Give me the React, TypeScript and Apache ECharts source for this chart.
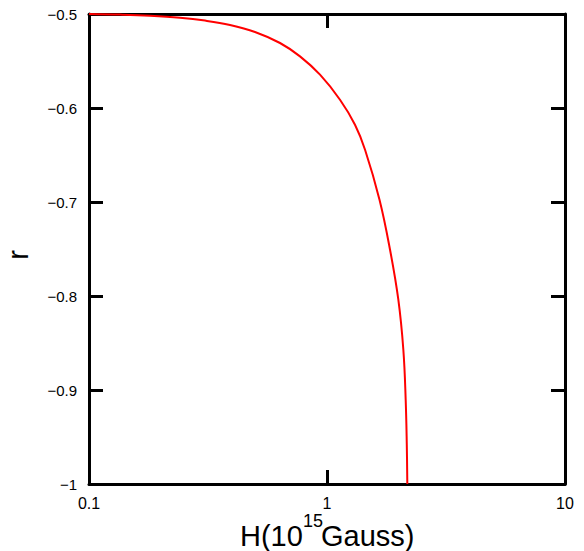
import React, { useEffect, useRef } from "react";
import * as echarts from "echarts";

const fieldH = [0.1, 0.135, 0.1804, 0.2412, 0.3072, 0.3913, 0.4983, 0.6347, 0.7701, 0.9346, 1.134, 1.311, 1.445, 1.662, 1.84, 1.994, 2.093, 2.141, 2.164, 2.175];
const ratioR = [-0.5, -0.50064, -0.50181, -0.50394, -0.50702, -0.5117, -0.51915, -0.53085, -0.5451, -0.56457, -0.59117, -0.61777, -0.64436, -0.69755, -0.75074, -0.80394, -0.85713, -0.91032, -0.95819, -1.0];
const xTicks = [0.1, 1, 10];
const yTicks = [-1, -0.9, -0.8, -0.7, -0.6, -0.5];

export default function App() {
  const ref = useRef<HTMLDivElement>(null);
  useEffect(() => {
    document.body.style.margin = "0";
    if (!ref.current) return;
    const chart = echarts.init(ref.current, null, { renderer: "svg" });
    const font = "'Liberation Sans', Arial, sans-serif";
    const fmtY = (v: number) => {
      const r = Math.round(v * 10) / 10;
      const m = yTicks.find((t) => Math.abs(t - r) < 1e-9);
      return m !== undefined ? String(m).replace("-", "\u2212") : "";
    };
    const fmtX = (v: number) => {
      const m = xTicks.find((t) => Math.abs(t - v) / t < 1e-6);
      return m !== undefined ? String(m) : "";
    };
    const axisLine = { show: true, lineStyle: { color: "#000", width: 3 } };
    const axisTick = { show: true, inside: true, length: 14, lineStyle: { color: "#000", width: 3 } };
    chart.setOption({
      animation: false,
      backgroundColor: "#fff",
      grid: { left: 89, right: 19, top: 14, bottom: 67, containLabel: false },
      xAxis: [
        {
          type: "log",
          logBase: 10,
          min: 0.1,
          max: 10,
          position: "bottom",
          axisLine,
          axisTick,
          minorTick: { show: false },
          splitLine: { show: false },
          axisLabel: { formatter: fmtX, color: "#000", fontSize: 16, fontFamily: font, margin: 11 },
        },
        {
          type: "log",
          logBase: 10,
          min: 0.1,
          max: 10,
          position: "top",
          axisLine,
          axisTick,
          splitLine: { show: false },
          axisLabel: { show: false },
        },
      ],
      yAxis: [
        {
          type: "value",
          min: -1,
          max: -0.5,
          interval: 0.1,
          position: "left",
          axisLine,
          axisTick,
          splitLine: { show: false },
          axisLabel: { formatter: fmtY, color: "#000", fontSize: 15, fontFamily: font, margin: 12 },
        },
        {
          type: "value",
          min: -1,
          max: -0.5,
          interval: 0.1,
          position: "right",
          axisLine,
          axisTick,
          splitLine: { show: false },
          axisLabel: { show: false },
        },
      ],
      graphic: [
        {
          type: "text",
          x: 240,
          y: 536,
          style: { text: "H(10", fontSize: 29, fontFamily: font, fill: "#000", align: "left", verticalAlign: "middle" },
        },
        {
          type: "text",
          x: 303,
          y: 521,
          style: { text: "15", fontSize: 18, fontFamily: font, fill: "#000", align: "left", verticalAlign: "middle" },
        },
        {
          type: "text",
          x: 321,
          y: 536,
          style: { text: "Gauss)", fontSize: 29, fontFamily: font, fill: "#000", align: "left", verticalAlign: "middle" },
        },
        {
          type: "text",
          x: 18,
          y: 255,
          rotation: Math.PI / 2,
          style: { text: "r", fontSize: 29, fontFamily: font, fill: "#000", align: "center", verticalAlign: "middle" },
        },
      ],
      series: [
        {
          type: "line",
          xAxisIndex: 0,
          yAxisIndex: 0,
          data: fieldH.map((h, i) => [h, ratioR[i]]),
          showSymbol: false,
          smooth: 0.4,
          lineStyle: { color: "#ff0000", width: 2 },
          clip: true,
        },
      ],
    });
    return () => chart.dispose();
  }, []);
  return <div ref={ref} style={{ width: 584, height: 551 }} />;
}
